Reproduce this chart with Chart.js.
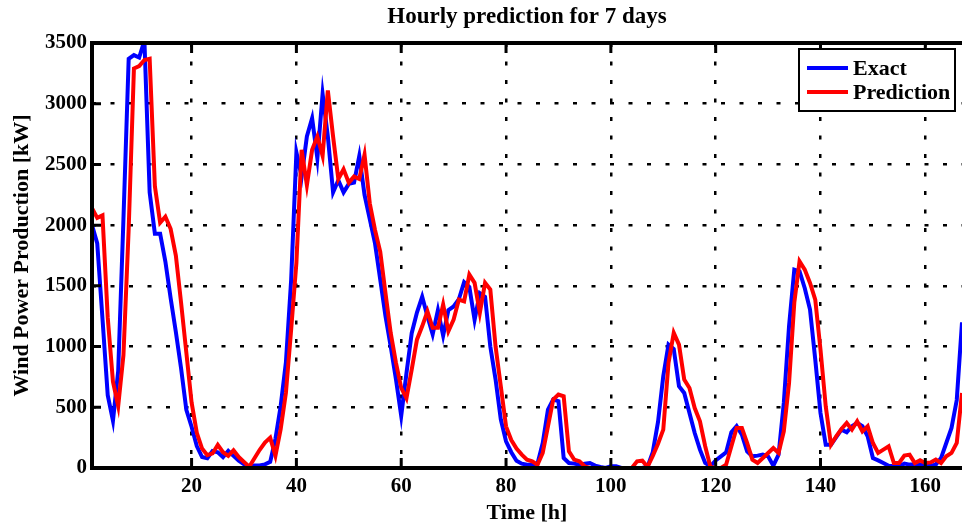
<!DOCTYPE html>
<html>
<head>
<meta charset="utf-8">
<title>Hourly prediction for 7 days</title>
<script src="https://cdn.jsdelivr.net/npm/chart.js@4/dist/chart.umd.min.js"></script>
<style>
  html, body { margin: 0; padding: 0; background: #fff; }
  #wrap { width: 962px; height: 524px; }
</style>
</head>
<body>
<div id="wrap"><canvas id="windChart" width="962" height="524"></canvas></div>
<script>
// Hours of the 7-day horizon
const hours = Array.from({ length: 168 }, (_, i) => i + 1);

// Measured wind power [kW]
const exact = [
  2000, 1850, 1230, 600, 390, 800, 2050, 3370, 3400, 3380, 3520, 2270,
  1930, 1930, 1700, 1400, 1120, 820, 480, 340, 180, 90, 80, 140,
  130, 90, 140, 100, 60, 30, 10, 20, 20, 30, 50, 240,
  510, 870, 1550, 2600, 2400, 2730, 2880, 2550, 3080, 2730, 2270, 2370,
  2270, 2340, 2350, 2570, 2250, 2050, 1850, 1550, 1250, 1000, 730, 430,
  780, 1110, 1280, 1410, 1250, 1100, 1300, 1090, 1300, 1330, 1390, 1530,
  1490, 1220, 1440, 1410, 1000, 730, 400, 220, 130, 60, 36, 27,
  27, 36, 206, 480, 564, 550, 82, 41, 36, 27, 36, 41,
  20, 8, 0, 14, 14, 0, 0, 0, 0, 0, 10, 130,
  380, 756, 1016, 980, 673, 618, 453, 288, 151, 41, 14, 63,
  96, 129, 294, 344, 275, 137, 96, 102, 110, 96, 19, 110,
  536, 1168, 1634, 1620, 1480, 1305, 893, 453, 192, 192, 255, 316,
  294, 344, 371, 344, 261, 82, 63, 41, 19, 14, 14, 36,
  28, 28, 28, 19, 19, 28, 82, 206, 330, 560, 1200, 1800
];

// Predicted wind power [kW]
const prediction = [
  2140, 2060, 2080, 1240, 710, 510, 930, 1970, 3290, 3310, 3360, 3370,
  2320, 2020, 2070, 1970, 1750, 1360, 950, 540, 290, 160, 105, 120,
  190, 130, 100, 145, 90, 50, 10, 80, 150, 210, 250, 100,
  320, 620, 1140, 1690, 2620, 2330, 2620, 2730, 2570, 3110, 2730, 2380,
  2460, 2350, 2400, 2380, 2580, 2180, 1960, 1780, 1440, 1110, 865, 660,
  574, 810, 1057, 1167, 1290, 1154, 1154, 1346, 1126, 1223, 1387, 1373,
  1593, 1525, 1278, 1525, 1470, 1002, 673, 343, 230, 160, 110, 69,
  55, 27, 124, 343, 564, 605, 591, 137, 69, 55, 14, 0,
  0, 0, 0, 0, 0, 0, 0, 0, 55, 60, 10, 100,
  200, 316, 865, 1113, 1016, 728, 659, 494, 385, 179, 8, 0,
  0, 28, 179, 330, 330, 206, 69, 41, 82, 124, 165, 124,
  302, 700, 1360, 1703, 1634, 1524, 1387, 975, 508, 192, 261, 322,
  371, 316, 385, 302, 344, 206, 124, 151, 179, 41, 41, 102,
  110, 41, 63, 41, 46, 69, 41, 96, 124, 206, 618, 1100
];

// Tick labels
const xTicks = [20, 40, 60, 80, 100, 120, 140, 160];
const yTicks = [0, 500, 1000, 1500, 2000, 2500, 3000, 3500];

const serif = "'Liberation Serif', 'Times New Roman', serif";
Chart.defaults.font.family = serif;
Chart.defaults.font.weight = 'bold';
Chart.defaults.color = '#000';

// MATLAB-like frame: thick box edges, inward tick marks and boxed legend
const matlabFrame = {
  id: 'matlabFrame',
  afterDatasetsDraw(chart) {
    const { ctx, chartArea: a, scales: { x, y } } = chart;
    ctx.save();
    ctx.strokeStyle = '#000';
    ctx.lineCap = 'butt';
    ctx.lineWidth = 3;
    ctx.beginPath();
    x.ticks.forEach(t => {
      const px = x.getPixelForValue(t.value);
      ctx.moveTo(px, a.bottom); ctx.lineTo(px, a.bottom - 10);
      ctx.moveTo(px, a.top); ctx.lineTo(px, a.top + 10);
    });
    y.ticks.forEach(t => {
      const py = y.getPixelForValue(t.value);
      ctx.moveTo(a.left, py); ctx.lineTo(a.left + 9, py);
    });
    ctx.stroke();

    ctx.lineWidth = 4;
    ctx.beginPath();
    ctx.moveTo(a.right + 2, a.top);
    ctx.lineTo(a.left, a.top);
    ctx.lineTo(a.left, a.bottom);
    ctx.lineTo(a.right + 2, a.bottom);
    ctx.stroke();
    ctx.restore();
  },
  afterDraw(chart) {
    const { ctx } = chart;
    const box = { x: 799, y: 49, w: 156, h: 62 };
    ctx.save();
    ctx.fillStyle = '#fff';
    ctx.fillRect(box.x, box.y, box.w, box.h);
    ctx.strokeStyle = '#000';
    ctx.lineWidth = 2;
    ctx.strokeRect(box.x, box.y, box.w, box.h);
    ctx.font = 'bold 22px ' + serif;
    ctx.textBaseline = 'middle';
    ctx.textAlign = 'left';
    chart.data.datasets.forEach((ds, i) => {
      const cy = box.y + 19 + i * 24;
      ctx.strokeStyle = ds.borderColor;
      ctx.lineWidth = 4;
      ctx.beginPath();
      ctx.moveTo(box.x + 8, cy);
      ctx.lineTo(box.x + 49, cy);
      ctx.stroke();
      ctx.fillStyle = '#000';
      ctx.fillText(ds.label, box.x + 54, cy + 1);
    });
    ctx.restore();
  }
};

const gridStyle = { color: '#000', lineWidth: 2.5, drawTicks: false };
const gridBorder = { display: false, dash: [4, 14.5] };

new Chart(document.getElementById('windChart'), {
  type: 'line',
  data: {
    datasets: [
      {
        label: 'Exact',
        data: hours.map((h, i) => ({ x: h, y: exact[i] })),
        borderColor: '#0000ff',
        borderWidth: 4,
        pointRadius: 0,
        tension: 0,
        order: 1
      },
      {
        label: 'Prediction',
        data: hours.map((h, i) => ({ x: h, y: prediction[i] })),
        borderColor: '#ff0000',
        borderWidth: 4,
        pointRadius: 0,
        tension: 0,
        order: 0
      }
    ]
  },
  options: {
    responsive: false,
    animation: false,
    devicePixelRatio: 1,
    layout: { padding: 0 },
    plugins: {
      legend: { display: false },
      tooltip: { enabled: false },
      title: {
        display: true,
        fullSize: false,
        text: 'Hourly prediction for 7 days',
        font: { size: 23, weight: 'bold' },
        padding: { top: 3, bottom: 12.4 }
      }
    },
    scales: {
      x: {
        type: 'linear',
        min: 1,
        max: 167,
        afterBuildTicks: s => { s.ticks = xTicks.map(v => ({ value: v })); },
        afterFit: s => { s.height = 56; },
        grid: gridStyle,
        border: gridBorder,
        ticks: { font: { size: 21, weight: 'bold' }, padding: 6, maxRotation: 0 },
        title: {
          display: true,
          text: 'Time [h]',
          font: { size: 22, weight: 'bold', lineHeight: 1 },
          padding: { top: 0, bottom: 0 }
        }
      },
      y: {
        min: 0,
        max: 3500,
        afterBuildTicks: s => { s.ticks = yTicks.map(v => ({ value: v })); },
        afterFit: s => { s.width = 92; },
        grid: gridStyle,
        border: gridBorder,
        ticks: {
          font: { size: 21, weight: 'bold' },
          padding: 5,
          callback: v => String(v)
        },
        title: {
          display: true,
          text: 'Wind Power Production [kW]',
          font: { size: 22, weight: 'bold', lineHeight: 1 },
          padding: { top: 11, bottom: 0 }
        }
      }
    }
  },
  plugins: [matlabFrame]
});
</script>
</body>
</html>
